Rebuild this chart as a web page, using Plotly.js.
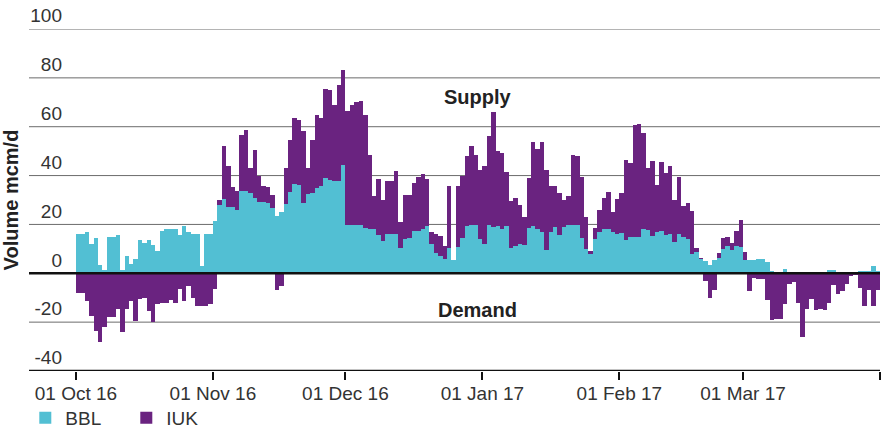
<!DOCTYPE html>
<html>
<head>
<meta charset="utf-8">
<script src="https://cdn.plot.ly/plotly-3.0.1.min.js"></script>
<style>
  html, body { margin: 0; padding: 0; background: #fff; }
  #chart { width: 881px; height: 430px; }
</style>
</head>
<body>
<div id="chart"></div>
<script>
// Daily flows, 01 Oct 2016 - 31 Mar 2017 (mcm/d)
const startDate = '2016-10-01';

const bbl = [
  // Oct
  16,16,17,12,14.5,3.5,1.5,15,15,15.5,1.5,7,4,6,13.5,12.5,13.5,11.5,9,17.5,18,18,18,15.5,19.5,17,16,16,3,16,16,
  // Nov
  21.4,27.8,30.5,27,27,25.9,33.5,33.5,33,31,29,29.2,28.8,26.6,23.4,25,28.2,33.3,36.6,36,28.8,32.5,33,34.8,35.8,38.9,38.2,37.8,37.8,44.3,
  // Dec
  19.7,19.7,19.7,19.7,18.5,18.3,18,15.5,13.2,16.1,16.1,16.1,10.3,14,14.4,17.3,17.3,18.2,19.3,11.8,8.4,7,5.7,10.2,5.3,10.7,14.6,19.3,19.6,19.6,13.9,
  // Jan
  11.8,19.6,18.9,19.3,18,19.3,10.5,11.2,11.8,11.4,18.6,19.3,18,16.9,9.5,16.9,19,15.5,18.9,19.6,19.6,19.6,14.3,9.8,8,14,16.8,18.3,18.2,17,16,
  // Feb
  16.3,13.5,14.8,14.8,15,18,17.6,15.1,17,17.3,15.5,16,13,16,15,14,8,8.6,5.8,5.2,3.4,5.5,6.2,10,11.3,9.6,11,10.6,
  // Mar
  5.3,5.3,5.3,5.8,5.8,4.6,1.1,0,0,1.6,0,0,0,0,0,0,0,0,0,1.2,1.3,0.5,0,0,0,0,1,1,1,3,1
];

const iuk = [
  // Oct
  -8,-8,-11.5,-17.5,-23.5,-28,-22,-18,-18,-14.5,-24,-14.5,-11.5,-19.5,-10.5,-10,-15.5,-20,-12.7,-12,-12,-11,-12,-6.5,-11.3,-5.4,-10,-13.3,-13.3,-13.3,-12.6,
  // Nov
  -6.5,2,21.5,17,8.3,7.6,23,25.3,10,19.3,10.7,6.5,6.4,5.4,-7,-5,14.9,21.3,26.9,26.9,29.3,10.5,21.6,30.1,27.7,36.6,36.8,31.2,39.4,39,
  // Dec
  46.8,49.3,50.5,51,46.2,30.3,13.7,23.2,16.7,21.6,21.6,25.8,10.7,18.2,17.6,19.7,22.3,22.6,19.5,5.2,7.5,8.2,5.5,25.7,0,25.2,25.1,28.9,32.4,29,28.3,
  // Jan
  32,36.7,47,30.6,31.3,22.1,19,19.7,16,11.7,20.4,34.4,32.9,36.8,32.9,19,16.6,17.4,11,12,29,28.4,25.3,13.4,1,4.5,9.1,12.7,15.2,8.2,14.6,
  // Feb
  16.6,33,30.4,45.8,46.2,39.4,25.5,31,19,28.3,25.5,27.8,16.9,23.3,12.5,14.6,17.4,1.9,0.6,-3.1,-10.2,-6.7,2,4.6,3.5,2.7,6.3,11.4,
  // Mar
  3.4,-7.2,-2,-2.3,-2.5,-10.8,-19.3,-18.8,-18.8,-12.7,-4.3,-3.4,-12.2,-25.9,-14.7,-10.4,-15.2,-14.7,-15.2,-12.1,-4.9,-8.4,-7.4,-4.3,-1.2,-0.5,-6,-13.3,-7,-13.3,-7
];

const xTickVals = ['2016-10-01','2016-11-01','2016-12-01','2017-01-01','2017-02-01','2017-03-01','2017-04-01'];
const xTickText = ['01 Oct 16','01 Nov 16','01 Dec 16','01 Jan 17','01 Feb 17','01 Mar 17',''];
const yTickVals = [-40,-20,0,20,40,60,80,100];
const yTickText = ['-40','-20','0','20','40','60','80','100'];
const seriesNames = ['BBL','IUK'];
const seriesColors = ['#52BFD3','#6A2380'];

// one date per value (bars centred on midday of each gas day)
const t0 = Date.parse(startDate + 'T00:00:00Z');
const days = bbl.map((_, i) => new Date(t0 + i * 86400000).toISOString().slice(0, 10) + ' 12:00');

const FONT = 'Liberation Sans, Arial, Helvetica, sans-serif';

const traces = [
  { type: 'bar', name: seriesNames[0], x: days, y: bbl,
    marker: { color: seriesColors[0], line: { width: 0 } } },
  { type: 'bar', name: seriesNames[1], x: days, y: iuk,
    marker: { color: seriesColors[1], line: { width: 0 } } }
];

const leftExt = -37 / 814; // gridlines reach left past the plot edge, under the tick labels
const shapes = yTickVals.map(v => {
  const strong = (v === 0 || v === -40);
  return {
    type: 'line', xref: 'paper', yref: 'y',
    x0: leftExt, x1: 1, y0: v, y1: v,
    line: { color: strong ? '#111111' : '#6b6b6b', width: strong ? 2.5 : 1 },
    layer: strong ? 'above' : 'below'
  };
});

const layout = {
  width: 881, height: 430,
  margin: { l: 66, r: 1, t: 29, b: 59, pad: 0, autoexpand: false },
  paper_bgcolor: '#ffffff', plot_bgcolor: 'rgba(0,0,0,0)',
  font: { family: FONT, color: '#333333', size: 19 },
  barmode: 'relative', bargap: 0,
  showlegend: true,
  legend: {
    orientation: 'h', x: -0.05, xanchor: 'left',
    yref: 'container', y: 0.028, yanchor: 'middle',
    entrywidth: 56, entrywidthmode: 'pixels',
    font: { family: FONT, size: 19, color: '#333333' },
    bgcolor: 'rgba(0,0,0,0)', traceorder: 'normal', itemclick: false
  },
  xaxis: {
    type: 'date',
    range: ['2016-09-28 18:00', '2017-04-01 00:00'],
    tickvals: xTickVals, ticktext: xTickText,
    ticks: 'outside', ticklen: 8, tickwidth: 2, tickcolor: '#111111',
    ticklabelstandoff: -3,
    showgrid: false, zeroline: false, showline: false,
    tickfont: { family: FONT, size: 19, color: '#333333' }
  },
  yaxis: {
    range: [-40, 100],
    tickvals: yTickVals, ticktext: yTickText,
    ticklabelposition: 'outside top',
    ticks: '', showgrid: false, zeroline: false, showline: false,
    ticklabelstandoff: 3,
    tickfont: { family: FONT, size: 19, color: '#333333' },
    title: { text: 'Volume mcm/d', standoff: 6,
             font: { family: FONT, size: 20, color: '#222222', weight: 'bold' } }
  },
  shapes: shapes,
  annotations: [
    { text: 'Supply', xref: 'paper', yref: 'paper', x: 0.506, y: 0.801,
      xanchor: 'center', yanchor: 'middle', showarrow: false,
      font: { family: FONT, size: 20, color: '#222222', weight: 'bold' } },
    { text: 'Demand', xref: 'paper', yref: 'paper', x: 0.506, y: 0.178,
      xanchor: 'center', yanchor: 'middle', showarrow: false,
      font: { family: FONT, size: 20, color: '#222222', weight: 'bold' } }
  ]
};

Plotly.newPlot('chart', traces, layout, { staticPlot: true, displayModeBar: false });
</script>
</body>
</html>
